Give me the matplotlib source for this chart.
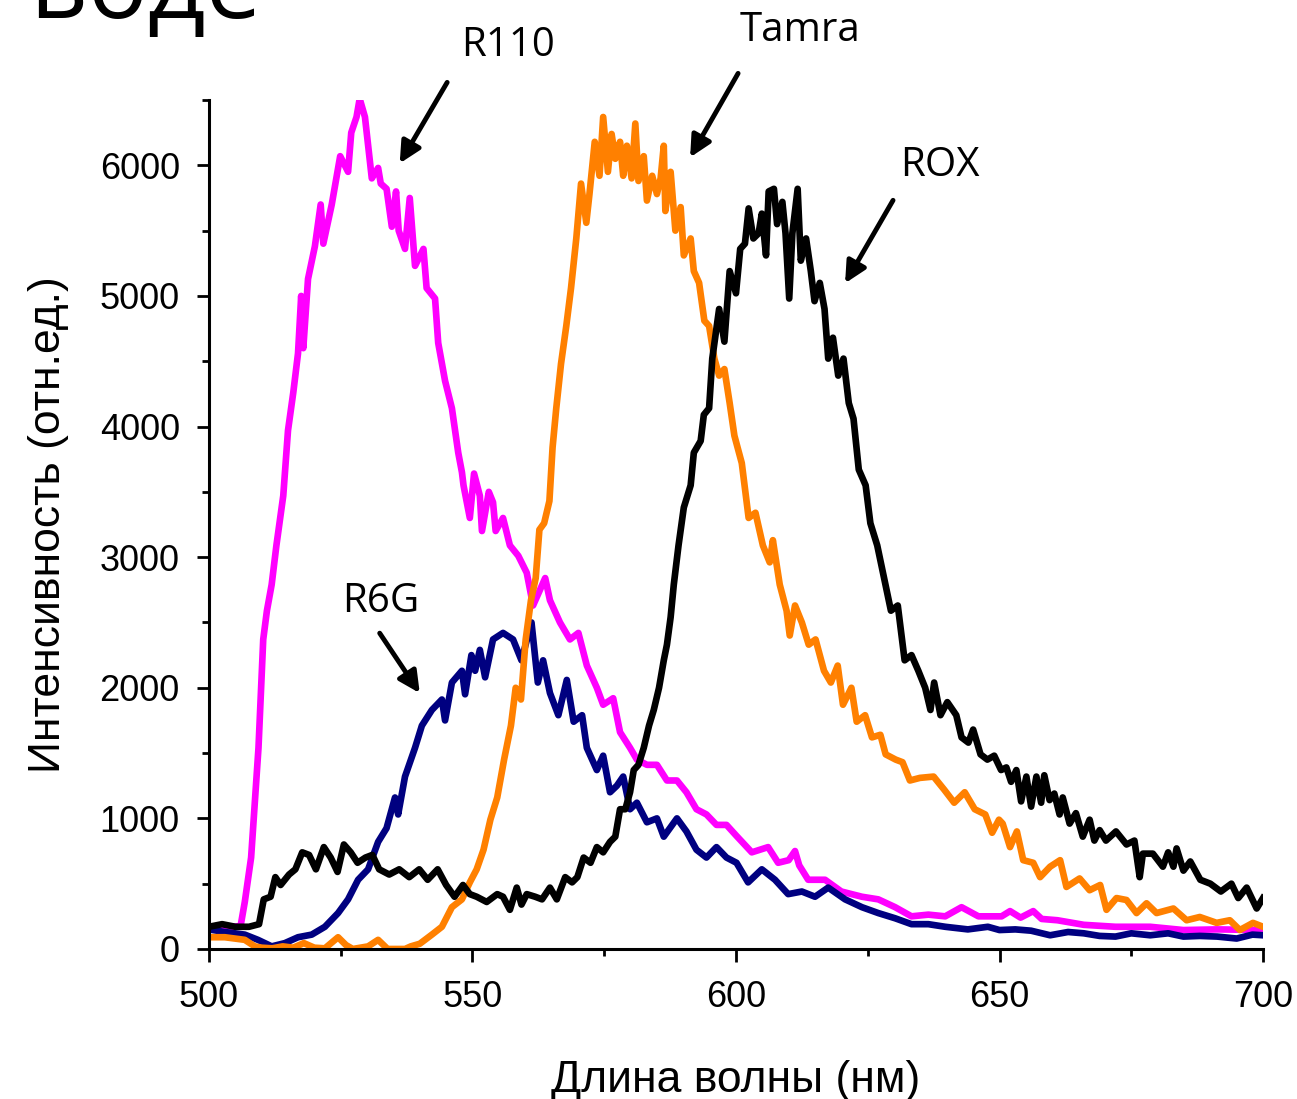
import matplotlib
matplotlib.use('Agg')
import matplotlib.pyplot as plt
from matplotlib.ticker import MultipleLocator

# спектры флуоресценции красителей
r110_x = [500, 502, 504, 506, 506.8, 508, 509.4, 510.3, 511, 511.9, 512.8, 514.1, 515, 516, 516.9,
          517.5, 517.9, 518.8, 520.1, 521.2, 521.7, 523.3, 524.9, 526.4, 527, 528, 528.6, 529.6,
          530.9, 532.1, 532.6, 533.7, 534.7, 535.5, 536, 537.2, 538.1, 539.1, 540.7, 541.3, 542.9,
          543.5, 544.8, 546.1, 547.3, 548, 548.3, 549.5, 550.3, 551.4, 551.8, 553.1, 553.9, 554.4,
          555.8, 557.1, 558.7, 560.3, 561.5, 563.8, 564.7, 566.6, 568.5, 570.1, 571.7, 573.6, 574.8,
          576.7, 578, 579.9, 581.2, 583.1, 585, 586.9, 588.8, 590.6, 592.5, 594.4, 596.3, 598.2, 600,
          603, 606.1, 608, 610, 611.2, 612, 613.7, 616.9, 620, 623.9, 627, 630.2, 633.3, 636.5,
          639.7, 642.8, 646, 650.4, 652, 654, 656.4, 658, 661, 666, 672, 678.6, 684.9, 691.3, 700]
r110_y = [170, 165, 170, 175, 360, 700, 1540, 2370, 2590, 2790, 3090, 3470, 3970, 4260, 4560,
          5000, 4600, 5130, 5380, 5700, 5400, 5700, 6070, 5950, 6250, 6370, 6510, 6370,
          5900, 5980, 5860, 5820, 5530, 5800, 5500, 5360, 5750, 5230, 5360, 5060, 4980,
          4640, 4350, 4140, 3800, 3650, 3550, 3300, 3640, 3470, 3200, 3500, 3420, 3200,
          3300, 3090, 3010, 2880, 2630, 2840, 2670, 2500, 2370, 2420, 2170, 2000, 1870,
          1920, 1660, 1540, 1450, 1410, 1410, 1290, 1290, 1200, 1070, 1030, 950, 950, 870,
          740, 780, 660, 680, 750, 640, 530, 530, 440, 400, 380, 320, 250, 263,
          250, 320, 250, 250, 290, 240, 290, 230, 220, 185, 170, 170, 145, 150, 145]

r6g_x = [500, 503, 506.8, 509.3, 511.9, 514.4, 516.9, 519.5, 522, 524.5, 526.4, 528.3, 530.2, 532.1,
         533.7, 535.3, 535.9, 537.2, 539.1, 540.4, 542.3, 544.2, 544.8, 546.1, 548, 548.6, 549.8,
         550.5, 551.4, 552.4, 553.9, 555.8, 557.7, 559.3, 561.2, 562.4, 563.4, 564.7, 566.3, 567.9,
         569.2, 570.8, 571.7, 573.6, 574.8, 576.1, 577.4, 578.6, 579.9, 581.2, 583.1, 585, 586.3,
         588.8, 590.6, 592.5, 594.4, 596.3, 598.2, 600.1, 602.3, 604.9, 607.4, 609.9, 612.5, 615,
         617.5, 620.7, 623.9, 627, 630.2, 633.3, 636.5, 639.7, 644, 647.8, 650, 653, 656, 659.6,
         663, 666, 669, 672, 675, 678.6, 682, 684.9, 688, 691.3, 695, 698, 700]
r6g_y = [150, 130, 110, 70, 20, 45, 90, 110, 170, 275, 380, 530, 610, 820,
         925, 1160, 1030, 1320, 1540, 1710, 1830, 1910, 1750, 2040, 2130, 1950, 2250,
         2130, 2290, 2080, 2370, 2420, 2370, 2210, 2500, 2040, 2210, 1960, 1790, 2060,
         1740, 1790, 1540, 1370, 1480, 1200, 1250, 1320, 1070, 1120, 970, 1000, 860,
         1000, 900, 760, 700, 780, 700, 660, 510, 610, 530, 420, 440, 400,
         470, 380, 320, 275, 235, 190, 190, 170, 150, 170, 145, 150, 140, 105,
         130, 120, 100, 95, 120, 105, 120, 95, 100, 95, 80, 110, 105]

tamra_x = [500, 503, 506.8, 508.7, 510, 512, 514, 516, 518, 520, 522, 524.5, 526, 527.3, 530.2,
           532.1, 533.9, 537.2, 538.3, 540, 542.3, 544.2, 546.1, 548, 549.5, 550.8, 552.1, 553.4,
           554.7, 556, 557.3, 558.2, 559.2, 560.1, 561.1, 562, 562.7, 563.6, 564.6, 565.2, 565.9,
           566.8, 567.8, 568.7, 569.7, 570.6, 571.6, 572.2, 573.2, 574.1, 574.8, 575.7, 576.4, 577.1,
           578, 578.6, 579.3, 580.2, 580.9, 581.5, 582.5, 583.1, 584.1, 585, 585.7, 586.3, 586.6,
           587.6, 588.5, 589.5, 590.1, 591.4, 592, 593, 594, 594.9, 595.9, 596.8, 597.8, 598.8,
           599.7, 601.1, 602.4, 603.7, 605.1, 606.4, 607, 608.3, 609.6, 610.2, 611.2, 612.5, 613.8,
           615.1, 616.7, 618, 619.3, 620.3, 621.9, 622.9, 624.5, 625.8, 627.4, 628.4, 630.3, 631.6,
           633, 634.9, 637.5, 639.5, 641.4, 643.4, 645.3, 647.3, 648.6, 649.9, 650.6, 652, 653.3,
           654.5, 656.4, 657.7, 659.6, 661.5, 662.7, 665.2, 667.1, 669.1, 670.3, 672.2, 674.1, 676,
           677.9, 679.8, 683, 685.5, 688, 691.2, 693.7, 695.6, 698.1, 700]
tamra_y = [90, 90, 70, 20, 10, 5, 20, 10, 45, 10, 5, 90, 30, 0, 20,
           70, 0, 0, 20, 40, 110, 170, 320, 380, 510, 610, 760, 990,
           1160, 1450, 1710, 2000, 1910, 2370, 2670, 2840, 3210, 3260, 3430, 3840, 4140,
           4480, 4770, 5060, 5440, 5860, 5560, 5780, 6180, 5920, 6370, 5950, 6240, 6050,
           6180, 5920, 6150, 5900, 6320, 5880, 6070, 5730, 5920, 5780, 5900, 6150, 5650,
           5950, 5500, 5680, 5310, 5440, 5190, 5100, 4810, 4770, 4520, 4390, 4440, 4180,
           3930, 3720, 3300, 3340, 3090, 2960, 3130, 2790, 2590, 2400, 2630, 2500, 2330,
           2370, 2130, 2040, 2170, 1870, 2000, 1740, 1790, 1620, 1640, 1490, 1450, 1430,
           1290, 1310, 1320, 1220, 1120, 1200, 1070, 1030, 890, 990, 960, 780, 900,
           680, 660, 550, 630, 680, 475, 540, 450, 490, 300, 390, 375, 275,
           350, 275, 310, 220, 245, 200, 220, 145, 200, 170]

rox_x = [500, 502.5, 505, 507.6, 509.5, 510.4, 511.7, 512.6, 513.6, 515.2, 516.4, 517.7, 519, 520.3,
         521.8, 523.1, 524.4, 525.6, 526.9, 528.2, 529.7, 531, 532.3, 534.2, 536.1, 538, 539.9,
         541.5, 543.4, 545, 546.6, 548.2, 549.5, 550.8, 552.7, 554.7, 555.8, 557.1, 558.4, 559.3,
         560.3, 561.9, 563.2, 564.7, 566, 567.6, 568.9, 569.9, 571.1, 572.4, 573.6, 574.8, 576.1,
         577.1, 578, 579, 579.9, 580.6, 581.5, 582.5, 583.5, 584.4, 585.4, 586.3, 586.9, 587.6,
         588.2, 589.1, 590.1, 591.4, 592, 593.3, 593.9, 594.9, 595.5, 596.8, 597.8, 598.8, 600,
         600.8, 601.7, 602.4, 603.3, 604.3, 604.9, 605.7, 606.2, 607.2, 607.8, 608.8, 609.4, 610.1,
         610.7, 611.7, 612.3, 613.3, 614.2, 614.9, 615.9, 616.8, 617.5, 618.4, 619.4, 620.4, 621.4,
         622.3, 623.3, 624.6, 625.5, 626.8, 628.1, 629.4, 630.7, 632, 633.3, 634.6, 635.9, 636.9,
         637.6, 638.8, 640.1, 641.8, 642.8, 644.1, 645, 646.4, 647.7, 649, 650.3, 651.3, 652.2,
         653.2, 654.1, 655.1, 656, 657, 657.9, 658.5, 659.5, 660.4, 661.4, 662, 663.3, 664.5,
         665.8, 667.1, 668, 669, 670.2, 672.1, 674.1, 675.6, 676.6, 677.2, 679.1, 681, 682, 683,
         683.6, 684.9, 686.2, 688.1, 690, 692, 694, 695.3, 696.9, 698.8, 700]
rox_y = [170, 190, 170, 170, 190, 380, 400, 550, 490, 570, 610, 740, 720, 610,
         780, 700, 590, 800, 740, 660, 700, 720, 610, 570, 610, 550, 610,
         530, 610, 490, 400, 490, 420, 400, 360, 420, 400, 300, 470, 340,
         420, 400, 380, 470, 380, 550, 510, 550, 700, 660, 780, 740, 820,
         860, 1070, 1070, 1200, 1370, 1410, 1540, 1710, 1830, 2000, 2210, 2330, 2540,
         2790, 3090, 3380, 3550, 3800, 3890, 4090, 4140, 4520, 4900, 4650, 5190, 5020,
         5360, 5400, 5670, 5440, 5480, 5630, 5310, 5800, 5820, 5550, 5720, 5480, 4980,
         5480, 5820, 5270, 5440, 5190, 4960, 5100, 4900, 4520, 4680, 4390, 4520, 4180,
         4060, 3670, 3550, 3260, 3090, 2840, 2590, 2630, 2210, 2250, 2130, 2000, 1830,
         2040, 1790, 1890, 1790, 1620, 1580, 1680, 1490, 1450, 1480, 1370, 1390, 1280,
         1370, 1130, 1320, 1090, 1320, 1120, 1330, 1140, 1190, 1030, 1160, 960, 1040,
         860, 990, 830, 910, 830, 900, 800, 830, 550, 730, 730, 630, 740, 630,
         770, 600, 670, 530, 500, 440, 500, 390, 470, 310, 390]

fig = plt.figure(figsize=(12.97, 10.99), dpi=100)
ax = fig.add_axes([0.1611, 0.1365, 0.8127, 0.7725])

lw = 4.8
ax.plot(r110_x, r110_y, color='#FF00FF', lw=lw)
ax.plot(r6g_x, r6g_y, color='#000080', lw=lw)
ax.plot(tamra_x, tamra_y, color='#FF8000', lw=lw)
ax.plot(rox_x, rox_y, color='black', lw=lw)

ax.set_xlim(500, 700)
ax.set_ylim(0, 6500)
ax.xaxis.set_major_locator(MultipleLocator(50))
ax.xaxis.set_minor_locator(MultipleLocator(25))
ax.yaxis.set_major_locator(MultipleLocator(1000))
ax.yaxis.set_minor_locator(MultipleLocator(500))

for s in ['top', 'right']:
    ax.spines[s].set_visible(False)
for s in ['left', 'bottom']:
    ax.spines[s].set_linewidth(2.2)

ax.tick_params(which='major', direction='out', length=9, width=2, labelsize=26)
ax.tick_params(which='minor', direction='out', length=5, width=2)
ax.tick_params(axis='x', which='major', pad=13)
ax.tick_params(axis='y', which='major', pad=12)
for lab in ax.get_xticklabels() + ax.get_yticklabels():
    lab.set_family('Liberation Sans')

ax.set_xlabel('Длина волны (нм)', fontsize=32, family='Liberation Sans', labelpad=33)
ax.set_ylabel('Интенсивность (отн.ед.)', fontsize=32, family='Liberation Sans', labelpad=22)

# подписи со стрелками
arrow = dict(arrowstyle='-|>', lw=3.5, color='black', mutation_scale=32, shrinkA=0, shrinkB=0)
labels = ['R110', 'Tamra', 'ROX', 'R6G']
label_xy = [(556.7, 6918), (612.1, 7033), (638.7, 6000), (532.6, 2656)]
tails = [(545.2, 6635), (600.4, 6704), (629.8, 5732), (532.4, 2418)]
heads = [(536.2, 6015), (591.3, 6061), (620.7, 5097), (540.0, 1959)]
for lab, pos, tail, head in zip(labels, label_xy, tails, heads):
    ax.annotate('', xy=head, xytext=tail, arrowprops=arrow, annotation_clip=False)
    ax.text(pos[0], pos[1], lab, fontsize=29, family='Open Sans',
            ha='center', va='center', clip_on=False)

# обрезанный заголовок слайда
fig.text(0.202, 0.984, 'в воде', fontsize=72, family='Open Sans', ha='right', va='baseline')

fig.savefig('out.png', dpi=100)
